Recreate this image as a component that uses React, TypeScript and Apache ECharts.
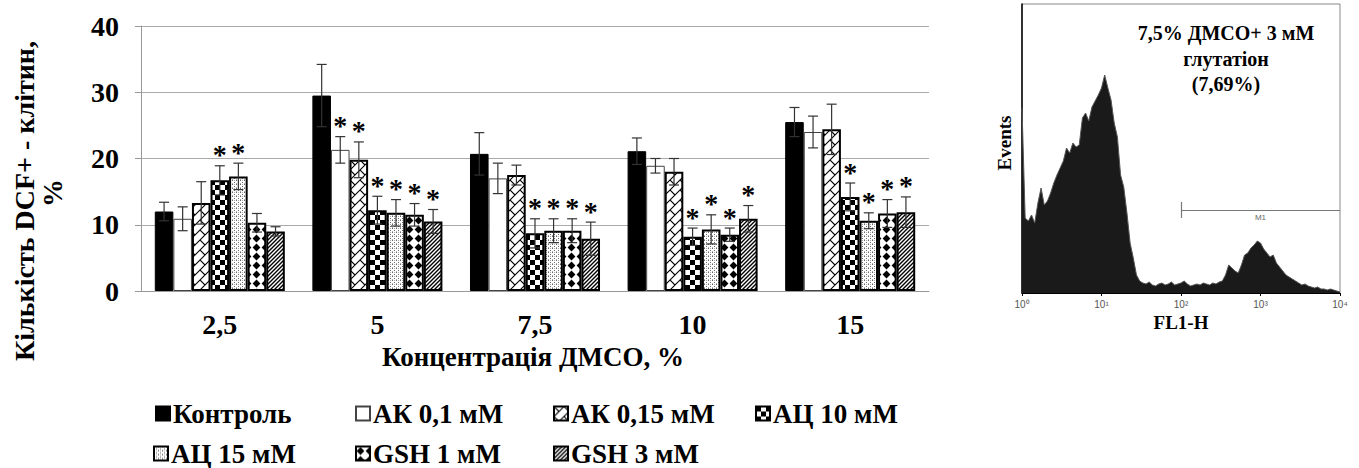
import React, { useEffect, useRef } from "react";
import * as echarts from "echarts";

const categories = ["2,5", "5", "7,5", "10", "15"];
const seriesNames = ["Контроль", "АК 0,1 мМ", "АК 0,15 мМ", "АЦ 10 мМ", "АЦ 15 мМ", "GSH 1 мМ", "GSH 3 мМ"];

const control = [12.0, 29.5, 20.7, 21.1, 25.5];
const controlErr = [1.4, 4.7, 3.2, 2.0, 2.2];
const ak01 = [10.9, 21.3, 17.0, 18.9, 24.0];
const ak01Err = [1.8, 2.0, 2.3, 1.1, 2.4];
const ak015 = [13.3, 19.8, 17.5, 18.0, 24.4];
const ak015Err = [3.2, 2.7, 1.5, 2.0, 3.8];
const ac10 = [16.7, 12.2, 8.7, 8.2, 14.2];
const ac10Err = [2.2, 2.1, 2.2, 1.3, 2.1];
const ac15 = [17.3, 11.8, 9.1, 9.3, 10.6];
const ac15Err = [2.0, 2.0, 1.8, 2.2, 1.2];
const gsh1 = [10.3, 11.5, 9.1, 8.5, 11.7];
const gsh1Err = [1.4, 1.7, 1.8, 1.0, 2.1];
const gsh3 = [9.0, 10.5, 7.9, 10.9, 11.9];
const gsh3Err = [0.7, 1.8, 2.5, 2.0, 2.3];

// significance marks (*)
const controlSig = [0, 0, 0, 0, 0];
const ak01Sig = [0, 1, 0, 0, 0];
const ak015Sig = [0, 1, 0, 0, 0];
const ac10Sig = [1, 1, 1, 1, 1];
const ac15Sig = [1, 1, 1, 1, 1];
const gsh1Sig = [0, 1, 1, 1, 1];
const gsh3Sig = [0, 1, 1, 1, 1];

const yTicks = [0, 10, 20, 30, 40];

// flow cytometry histogram (FL1-H, log decades 10^0..10^4), channel heights
const flLogStep = 0.04;
const flHeights = [
  185, 75, 72, 78, 70, 90, 105, 88, 92, 100,
  110, 118, 125, 132, 145, 140, 150, 146, 148, 175,
  180, 172, 186, 192, 198, 205, 218, 205, 193, 170,
  156, 118, 106, 80, 50, 35, 18, 12, 10, 9,
  11, 8, 7, 9, 10, 8, 9, 11, 8, 9,
  10, 12, 9, 7, 8, 9, 8, 10, 9, 8,
  10, 9, 11, 12, 18, 28, 25, 22, 20, 28,
  38, 40, 45, 48, 52, 50, 44, 40, 36, 38,
  30, 26, 22, 18, 16, 14, 12, 10, 8, 9,
  7, 6, 5, 6, 4, 4, 3, 4, 3, 2, 1,
];
const flDecadeLabels = ["10⁰", "10¹", "10²", "10³", "10⁴"];
const gateM1 = { from: 2, to: 4, level: 83 };

const SERIF = '"Liberation Serif", "Times New Roman", serif';
const SANS = '"Liberation Sans", Arial, sans-serif';

function makeTile(w: number, h: number, draw: (ctx: CanvasRenderingContext2D) => void) {
  const c = document.createElement("canvas");
  c.width = w;
  c.height = h;
  const ctx = c.getContext("2d")!;
  ctx.fillStyle = "#fff";
  ctx.fillRect(0, 0, w, h);
  draw(ctx);
  return { image: c, repeat: "repeat" };
}

export default function App() {
  const ref = useRef<HTMLDivElement>(null);

  useEffect(() => {
    if (!ref.current) return;
    const chart = echarts.init(ref.current, null, { renderer: "svg" });

    const zigzag = makeTile(10, 10, (ctx) => {
      ctx.strokeStyle = "#000";
      ctx.lineWidth = 1.1;
      ctx.beginPath();
      ctx.moveTo(-1, 11); ctx.lineTo(11, -1);
      ctx.moveTo(-1, 1); ctx.lineTo(1, -1);
      ctx.moveTo(9, 11); ctx.lineTo(11, 9);
      ctx.moveTo(0, 0); ctx.lineTo(5, 5);
      ctx.stroke();
    });
    const checker = makeTile(10, 10, (ctx) => {
      ctx.fillStyle = "#000";
      ctx.fillRect(0, 0, 5, 5);
      ctx.fillRect(5, 5, 5, 5);
    });
    const dotted = makeTile(4, 4, (ctx) => {
      ctx.fillStyle = "#666";
      ctx.fillRect(0, 0, 1, 1);
      ctx.fillRect(2, 2, 1, 1);
      ctx.fillStyle = "#aaa";
      ctx.fillRect(2, 0, 1, 1);
      ctx.fillRect(0, 3, 1, 1);
    });
    const diamonds = makeTile(9, 9, (ctx) => {
      ctx.fillStyle = "#000";
      ctx.beginPath();
      ctx.moveTo(4.5, 0.6);
      ctx.lineTo(8.4, 4.5);
      ctx.lineTo(4.5, 8.4);
      ctx.lineTo(0.6, 4.5);
      ctx.closePath();
      ctx.fill();
    });
    const diag = makeTile(4, 4, (ctx) => {
      ctx.strokeStyle = "#000";
      ctx.lineWidth = 1.4;
      ctx.beginPath();
      ctx.moveTo(-1, 5); ctx.lineTo(5, -1);
      ctx.moveTo(-1, 1); ctx.lineTo(1, -1);
      ctx.moveTo(3, 5); ctx.lineTo(5, 3);
      ctx.stroke();
    });

    const values = [control, ak01, ak015, ac10, ac15, gsh1, gsh3];
    const errs = [controlErr, ak01Err, ak015Err, ac10Err, ac15Err, gsh1Err, gsh3Err];
    const sigs = [controlSig, ak01Sig, ak015Sig, ac10Sig, ac15Sig, gsh1Sig, gsh3Sig];
    const fills: any[] = ["#000", "#fff", zigzag, checker, dotted, diamonds, diag];
    const borders = [
      { c: "#000", w: 1 },
      { c: "#444", w: 1 },
      { c: "#000", w: 2 },
      { c: "#000", w: 2 },
      { c: "#000", w: 2 },
      { c: "#000", w: 2 },
      { c: "#000", w: 2 },
    ];
    const N = seriesNames.length;
    const GAP = 0.175;

    const barSeries = seriesNames.map((name, si) => ({
      name,
      type: "bar",
      xAxisIndex: 0,
      yAxisIndex: 0,
      barGap: "0%",
      barCategoryGap: "17.5%",
      data: values[si],
      itemStyle: { color: fills[si], borderColor: borders[si].c, borderWidth: borders[si].w },
      z: 2,
    }));

    const errSeries = seriesNames.map((name, si) => ({
      type: "custom",
      xAxisIndex: 0,
      yAxisIndex: 0,
      z: 5,
      silent: true,
      data: values[si].map((v, ci) => [ci, v, errs[si][ci], sigs[si][ci]]),
      encode: { x: 0, y: 1 },
      renderItem: (params: any, api: any) => {
        const ci = api.value(0);
        const v = api.value(1);
        const e = api.value(2);
        const s = api.value(3);
        const base = api.coord([ci, v]);
        const catW = api.size([1, 0])[0];
        const bw = (catW * (1 - GAP)) / N;
        const x = base[0] + (si - (N - 1) / 2) * bw;
        const top = api.coord([ci, v + e])[1];
        const bot = api.coord([ci, v - e])[1];
        const cap = 5;
        const st = { stroke: "#333", lineWidth: 1.2 };
        const children: any[] = [
          { type: "line", shape: { x1: x, y1: top, x2: x, y2: bot }, style: st },
          { type: "line", shape: { x1: x - cap, y1: top, x2: x + cap, y2: top }, style: st },
          { type: "line", shape: { x1: x - cap, y1: bot, x2: x + cap, y2: bot }, style: st },
        ];
        if (s) {
          children.push({
            type: "text",
            x: x,
            y: top - 11,
            style: {
              text: "*",
              fill: "#000",
              font: `bold 28px ${SERIF}`,
              align: "center",
              verticalAlign: "middle",
            },
          });
        }
        return { type: "group", children };
      },
    }));

    const legendPos = [
      [155, 400], [355, 400], [553, 400], [755, 400],
      [153, 440], [355, 440], [553, 440],
    ];
    const legends = seriesNames.map((name, i) => ({
      data: [name],
      left: legendPos[i][0],
      top: legendPos[i][1],
      padding: 0,
      icon: "rect",
      itemWidth: 14,
      itemHeight: 14,
      selectedMode: false,
      textStyle: { fontFamily: SERIF, fontWeight: "bold", fontSize: 27, lineHeight: 26, color: "#000", padding: [0, 0, 0, -2] },
    }));

    const option: any = {
      animation: false,
      backgroundColor: "#fff",
      textStyle: { fontFamily: SERIF },
      legend: legends,
      grid: [
        { left: 141, top: 26, width: 788, height: 265, containLabel: false },
        { left: 1022, top: 4, width: 318, height: 289, show: true, borderColor: "#888", borderWidth: 1, backgroundColor: "transparent" },
      ],
      xAxis: [
        {
          type: "category",
          gridIndex: 0,
          data: categories,
          axisLine: { lineStyle: { color: "#999", width: 1 } },
          axisTick: { show: false },
          axisLabel: { fontFamily: SERIF, fontWeight: "bold", fontSize: 28, color: "#000", margin: 19 },
        },
        {
          type: "value",
          gridIndex: 1,
          min: 0,
          max: 4,
          interval: 1,
          axisLine: { lineStyle: { color: "#000", width: 1 } },
          axisTick: { show: true, length: 3, lineStyle: { color: "#000" } },
          splitLine: { show: false },
          axisLabel: {
            fontFamily: SANS,
            fontSize: 10,
            color: "#555",
            margin: 6,
            formatter: (v: number) => flDecadeLabels[Math.round(v)],
          },
        },
      ],
      yAxis: [
        {
          type: "value",
          gridIndex: 0,
          min: yTicks[0],
          max: yTicks[yTicks.length - 1],
          interval: 10,
          axisLine: { show: true, lineStyle: { color: "#999" } },
          axisTick: { show: true, length: 6, lineStyle: { color: "#999" } },
          splitLine: { lineStyle: { color: "#aaa", width: 1 } },
          axisLabel: { fontFamily: SERIF, fontWeight: "bold", fontSize: 28, color: "#000", margin: 22 },
        },
        {
          type: "value",
          gridIndex: 1,
          min: 0,
          max: 289,
          axisLine: { show: true, lineStyle: { color: "#000", width: 1.5 } },
          axisTick: { show: false },
          axisLabel: { show: false },
          splitLine: { show: false },
        },
      ],
      series: [
        ...barSeries,
        ...errSeries,
        {
          type: "line",
          xAxisIndex: 1,
          yAxisIndex: 1,
          data: flHeights.map((h, i) => [i * flLogStep, h]),
          symbol: "none",
          lineStyle: { color: "#555", width: 1 },
          areaStyle: { color: "#1a1a1a", opacity: 1 },
          markLine: {
            silent: true,
            symbol: "none",
            lineStyle: { color: "#777", width: 1.2, type: "solid" },
            label: { show: false },
            data: [
              [
                { coord: [gateM1.from, gateM1.level], label: { show: true, formatter: "M1", position: "insideMiddleBottom", fontFamily: SANS, fontSize: 8, color: "#666", distance: 3 } },
                { coord: [gateM1.to, gateM1.level] },
              ],
              [{ coord: [gateM1.from, gateM1.level - 8] }, { coord: [gateM1.from, gateM1.level + 8] }],
            ],
          },
        },
      ],
      graphic: [
        {
          type: "text",
          x: 24,
          y: 201,
          rotation: Math.PI / 2,
          style: { text: "Кількість DCF+ - клітин,", font: `bold 28px ${SERIF}`, fill: "#000", align: "center", verticalAlign: "middle" },
        },
        {
          type: "text",
          x: 52,
          y: 193,
          rotation: Math.PI / 2,
          style: { text: "%", font: `bold 28px ${SERIF}`, fill: "#000", align: "center", verticalAlign: "middle" },
        },
        {
          type: "text",
          x: 533,
          y: 357,
          style: { text: "Концентрація ДМСО, %", font: `bold 27px ${SERIF}`, fill: "#000", align: "center", verticalAlign: "middle" },
        },
        {
          type: "text",
          x: 1226,
          y: 33,
          style: { text: "7,5% ДМСО+ 3 мМ", font: `bold 20px ${SERIF}`, fill: "#000", align: "center", verticalAlign: "middle" },
        },
        {
          type: "text",
          x: 1226,
          y: 59,
          style: { text: "глутатіон", font: `bold 20px ${SERIF}`, fill: "#000", align: "center", verticalAlign: "middle" },
        },
        {
          type: "text",
          x: 1226,
          y: 84,
          style: { text: "(7,69%)", font: `bold 20px ${SERIF}`, fill: "#000", align: "center", verticalAlign: "middle" },
        },
        {
          type: "text",
          x: 1004,
          y: 143,
          rotation: Math.PI / 2,
          style: { text: "Events", font: `bold 19px ${SERIF}`, fill: "#000", align: "center", verticalAlign: "middle" },
        },
        {
          type: "text",
          x: 1181,
          y: 322,
          style: { text: "FL1-H", font: `bold 19px ${SERIF}`, fill: "#000", align: "center", verticalAlign: "middle" },
        },
      ],
    };

    chart.setOption(option);
    return () => chart.dispose();
  }, []);

  return (
    <div
      ref={ref}
      style={{ position: "fixed", left: 0, top: 0, width: 1359, height: 468, background: "#fff" }}
    />
  );
}
